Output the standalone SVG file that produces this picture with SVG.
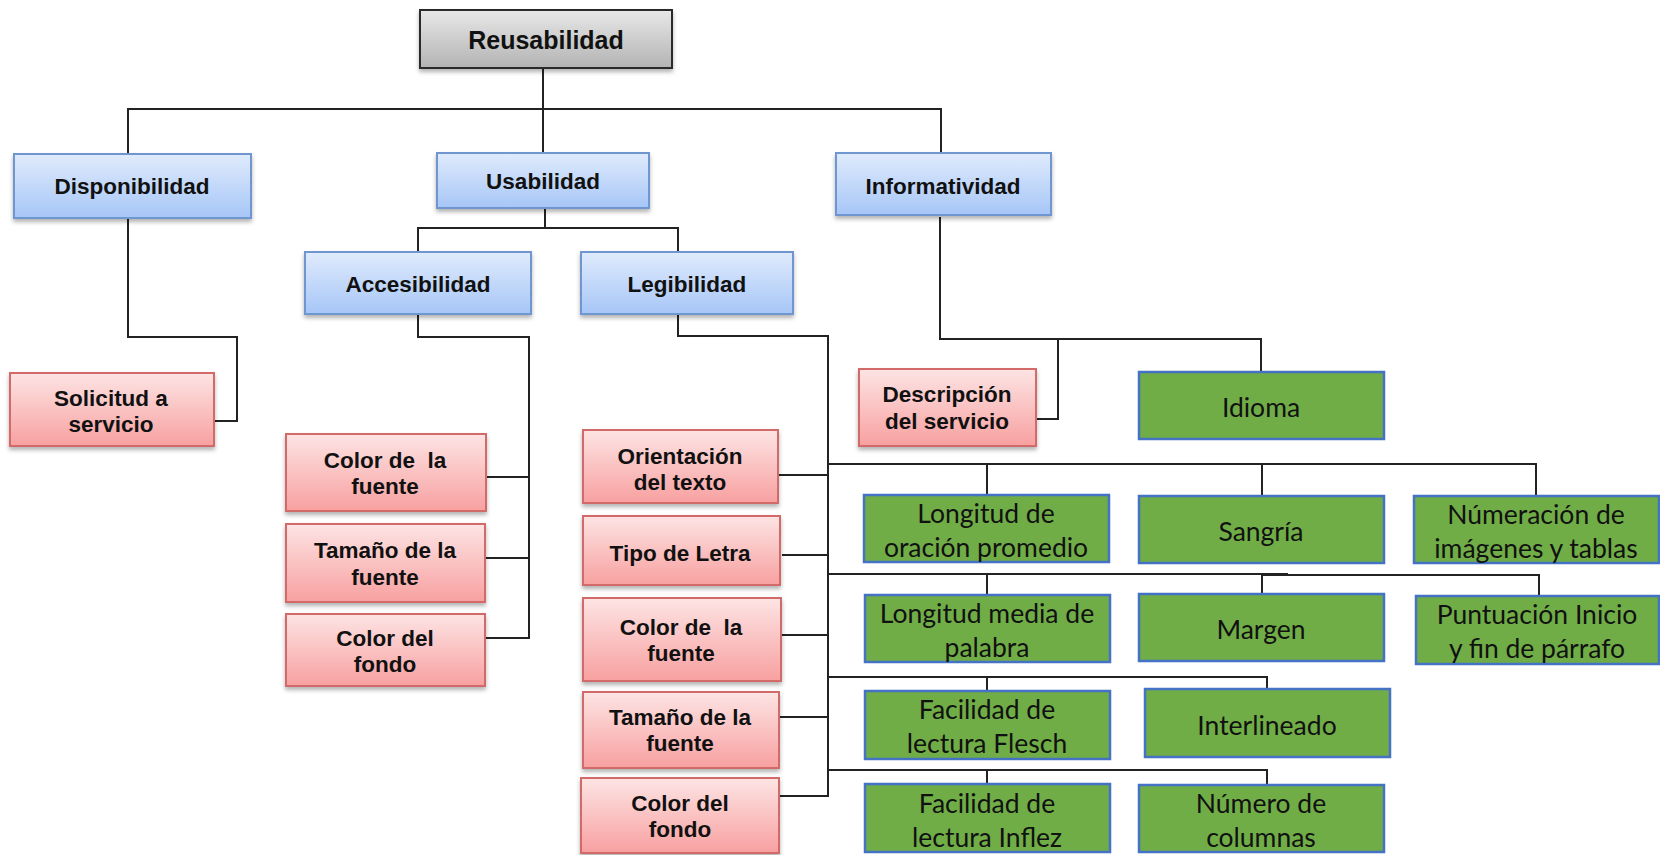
<svg xmlns="http://www.w3.org/2000/svg" width="1660" height="855" viewBox="0 0 1660 855">
<defs>
<linearGradient id="gGray" x1="0" y1="0" x2="0" y2="1"><stop offset="0" stop-color="#e8e8e8"/><stop offset="1" stop-color="#b3b3b3"/></linearGradient>
<linearGradient id="gBlue" x1="0" y1="0" x2="0" y2="1"><stop offset="0" stop-color="#e0ebfc"/><stop offset="1" stop-color="#a6c6f7"/></linearGradient>
<linearGradient id="gPink" x1="0" y1="0" x2="0" y2="1"><stop offset="0" stop-color="#fde4e4"/><stop offset="1" stop-color="#f8a0a0"/></linearGradient>
<filter id="sh" x="-10%" y="-10%" width="120%" height="140%"><feDropShadow dx="0" dy="3" stdDeviation="2" flood-color="#000" flood-opacity="0.3"/></filter>
</defs>
<style>
.gray{fill:url(#gGray);stroke:#2a2a2a;stroke-width:2;filter:url(#sh)}
.blue{fill:url(#gBlue);stroke:#6f96d0;stroke-width:2;filter:url(#sh)}
.pink{fill:url(#gPink);stroke:#d26a6a;stroke-width:2;filter:url(#sh)}
.green{fill:#70ad47;stroke:#4472c4;stroke-width:2.5}
.b{font-family:"Liberation Sans",Arial,sans-serif;font-weight:bold;font-size:22.5px;fill:#111;text-anchor:middle;dominant-baseline:central}
.t{font-size:25px}
.g{font-family:Lato,"Open Sans",sans-serif;font-size:26.5px;fill:#111;text-anchor:middle;dominant-baseline:central}
.c{fill:none;stroke:#222;stroke-width:2}
</style>
<rect width="1660" height="855" fill="#fff"/>
<g id="connectors" class="c">
<path d="M543 68V153M128 155V109H941V153"/>
<path d="M545 209V228M418 252V228H678V252"/>
<path d="M128 218V337H237V421H214"/>
<path d="M418 314V337H529V638H486M486 477H529M486 558H529"/>
<path d="M678 314V336H828V796H779M778 475H828M782 555H828M781 635H828M779 717H828"/>
<path d="M940 217V339H1261V372M1058 339V419H1036"/>
<path d="M828 464H1536V496M987 464V495M1262 464V496"/>
<path d="M828 574H1288M1262 575H1539V596M987 574V595M1262 575V594"/>
<path d="M828 677H1267V689M987 677V691"/>
<path d="M828 770H1267V784M987 770V784"/>
</g>
<g id="n-reusabilidad"><rect class="gray" x="420" y="10" width="252" height="58"/><text class="b t" x="546" y="40">Reusabilidad</text></g>
<g id="n-disponibilidad"><rect class="blue" x="14" y="154" width="237" height="64"/><text class="b" x="132" y="186">Disponibilidad</text></g>
<g id="n-usabilidad"><rect class="blue" x="437" y="153" width="212" height="55"/><text class="b" x="543" y="181">Usabilidad</text></g>
<g id="n-informatividad"><rect class="blue" x="836" y="153" width="215" height="62"/><text class="b" x="943" y="186">Informatividad</text></g>
<g id="n-accesibilidad"><rect class="blue" x="305" y="252" width="226" height="62"/><text class="b" x="418" y="284">Accesibilidad</text></g>
<g id="n-legibilidad"><rect class="blue" x="581" y="252" width="212" height="62"/><text class="b" x="687" y="284">Legibilidad</text></g>
<g id="n-solicitud"><rect class="pink" x="10" y="373" width="204" height="73"/><text class="b" x="111" y="398">Solicitud a</text><text class="b" x="111" y="424">servicio</text></g>
<g id="n-acc-color-fuente"><rect class="pink" x="286" y="434" width="200" height="77"/><text class="b" x="385" y="460" xml:space="preserve">Color de  la</text><text class="b" x="385" y="486">fuente</text></g>
<g id="n-acc-tamano"><rect class="pink" x="286" y="524" width="199" height="78"/><text class="b" x="385" y="550">Tamaño de la</text><text class="b" x="385" y="577">fuente</text></g>
<g id="n-acc-color-fondo"><rect class="pink" x="286" y="614" width="199" height="72"/><text class="b" x="385" y="638">Color del</text><text class="b" x="385" y="664">fondo</text></g>
<g id="n-descripcion"><rect class="pink" x="859" y="369" width="177" height="77"/><text class="b" x="947" y="394">Descripción</text><text class="b" x="947" y="421">del servicio</text></g>
<g id="n-orientacion"><rect class="pink" x="583" y="430" width="195" height="73"/><text class="b" x="680" y="456">Orientación</text><text class="b" x="680" y="482">del texto</text></g>
<g id="n-tipo"><rect class="pink" x="583" y="516" width="197" height="69"/><text class="b" x="680" y="553">Tipo de Letra</text></g>
<g id="n-leg-color-fuente"><rect class="pink" x="583" y="598" width="198" height="83"/><text class="b" x="681" y="627" xml:space="preserve">Color de  la</text><text class="b" x="681" y="653">fuente</text></g>
<g id="n-leg-tamano"><rect class="pink" x="583" y="692" width="196" height="76"/><text class="b" x="680" y="717">Tamaño de la</text><text class="b" x="680" y="743">fuente</text></g>
<g id="n-leg-color-fondo"><rect class="pink" x="581" y="778" width="198" height="75"/><text class="b" x="680" y="803">Color del</text><text class="b" x="680" y="829">fondo</text></g>
<g id="n-idioma"><rect class="green" x="1139" y="372" width="245" height="67"/><text class="g" x="1261" y="407">Idioma</text></g>
<g id="n-long-oracion"><rect class="green" x="864" y="495" width="245" height="67"/><text class="g" x="986" y="513">Longitud de</text><text class="g" x="986" y="547">oración promedio</text></g>
<g id="n-sangria"><rect class="green" x="1139" y="496" width="245" height="67"/><text class="g" x="1261" y="531">Sangría</text></g>
<g id="n-numeracion"><rect class="green" x="1414" y="496" width="245" height="67"/><text class="g" x="1536" y="514">Númeración de</text><text class="g" x="1536" y="548">imágenes y tablas</text></g>
<g id="n-long-media"><rect class="green" x="865" y="595" width="245" height="67"/><text class="g" x="987" y="613">Longitud media de</text><text class="g" x="987" y="647">palabra</text></g>
<g id="n-margen"><rect class="green" x="1139" y="594" width="245" height="67"/><text class="g" x="1261" y="629">Margen</text></g>
<g id="n-puntuacion"><rect class="green" x="1416" y="596" width="243" height="68"/><text class="g" x="1537" y="614">Puntuación Inicio</text><text class="g" x="1537" y="648">y fin de párrafo</text></g>
<g id="n-flesch"><rect class="green" x="865" y="691" width="245" height="68"/><text class="g" x="987" y="709">Facilidad de</text><text class="g" x="987" y="743">lectura Flesch</text></g>
<g id="n-interlineado"><rect class="green" x="1145" y="689" width="245" height="68"/><text class="g" x="1267" y="725">Interlineado</text></g>
<g id="n-inflez"><rect class="green" x="865" y="784" width="245" height="68"/><text class="g" x="987" y="803">Facilidad de</text><text class="g" x="987" y="837">lectura Inflez</text></g>
<g id="n-columnas"><rect class="green" x="1139" y="785" width="245" height="67"/><text class="g" x="1261" y="803">Número de</text><text class="g" x="1261" y="837">columnas</text></g>
</svg>
